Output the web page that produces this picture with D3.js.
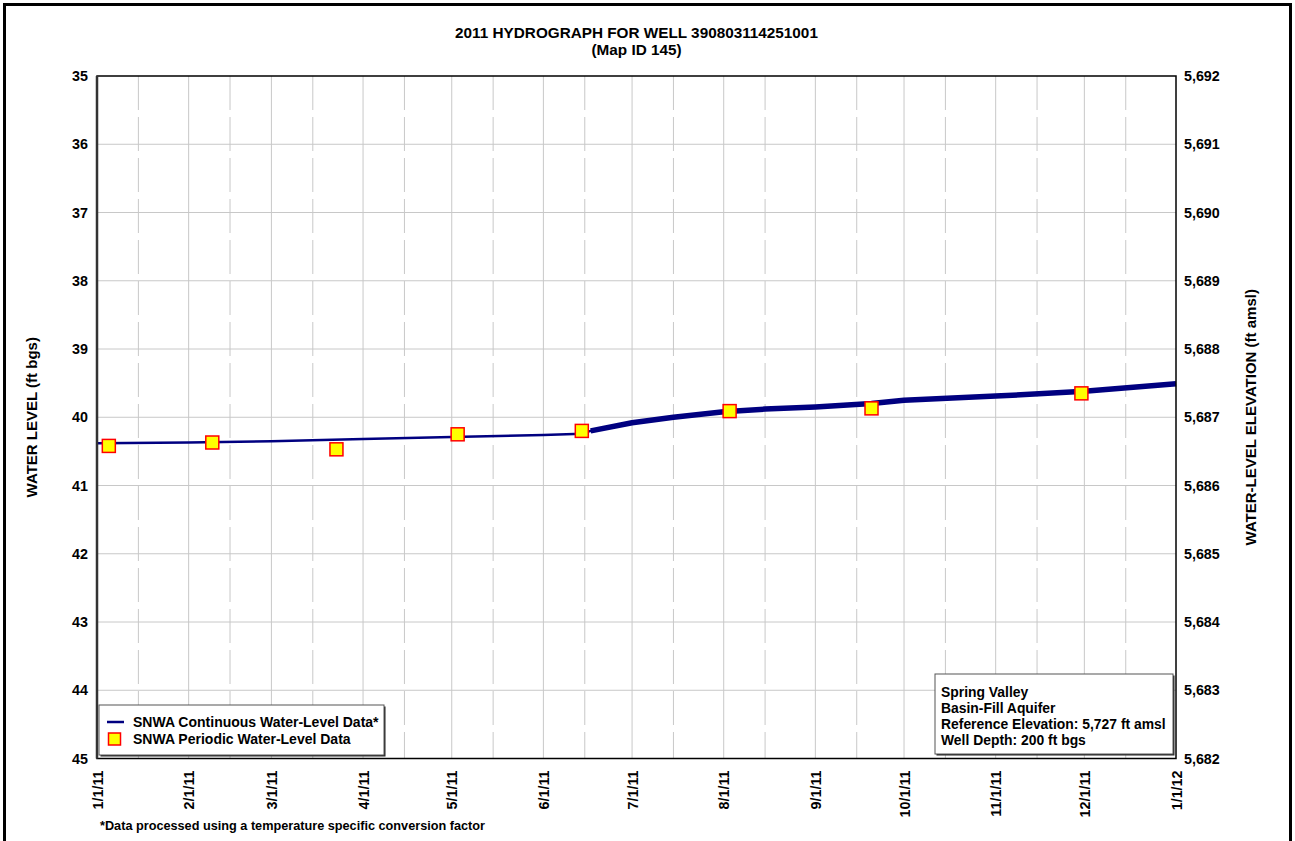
<!DOCTYPE html>
<html>
<head>
<meta charset="utf-8">
<script src="https://cdn.jsdelivr.net/npm/d3@7/dist/d3.min.js"></script>
<style>
  html, body { margin: 0; padding: 0; background: #fff; }
  svg { display: block; font-family: "Liberation Sans", Arial, sans-serif; font-weight: bold; }
</style>
</head>
<body>
<svg id="chart" width="1295" height="841"></svg>
<script>
// ---- data -------------------------------------------------------------
const titleLines = ["2011 HYDROGRAPH FOR WELL 390803114251001", "(Map ID 145)"];
const referenceElevation = 5727; // ft amsl
const depthDomain = [35, 45];     // ft bgs
const depthTicks = [35, 36, 37, 38, 39, 40, 41, 42, 43, 44, 45];

// continuous transducer record (ft bgs)
const contDates = ["2011-01-01", "2011-02-01", "2011-03-01", "2011-04-01", "2011-05-01",
  "2011-06-01", "2011-06-14", "2011-06-17", "2011-07-01", "2011-07-15", "2011-08-01",
  "2011-08-15", "2011-09-01", "2011-09-20", "2011-10-01", "2011-11-01", "2011-12-01", "2012-01-01"];
const contDepths = [40.38, 40.37, 40.35, 40.32, 40.29,
  40.26, 40.24, 40.20, 40.08, 40.00, 39.92,
  39.88, 39.85, 39.80, 39.75, 39.69, 39.62, 39.51];
// after this date the record is logged at high frequency and plots as a wide band
const bandStart = "2011-06-17";

// periodic manual measurements (ft bgs)
const periodicDates = ["2011-01-05", "2011-02-09", "2011-03-23", "2011-05-03",
  "2011-06-14", "2011-08-03", "2011-09-20", "2011-11-30"];
const periodicDepths = [40.42, 40.37, 40.47, 40.25, 40.20, 39.91, 39.87, 39.65];

const legendLabels = ["SNWA Continuous Water-Level Data*", "SNWA Periodic Water-Level Data"];
const infoLines = ["Spring Valley", "Basin-Fill Aquifer",
  "Reference Elevation: 5,727 ft amsl", "Well Depth: 200 ft bgs"];
const footnote = "*Data processed using a temperature specific conversion factor";
const leftTitle = "WATER LEVEL (ft bgs)";
const rightTitle = "WATER-LEVEL ELEVATION (ft amsl)";

// ---- layout -----------------------------------------------------------
const parse = d3.timeParse("%Y-%m-%d");
const plot = { left: 97, right: 1176, top: 76, bottom: 758.5 };
const svg = d3.select("#chart");

const x = d3.scaleTime()
  .domain([parse("2011-01-01"), parse("2012-01-01")])
  .range([plot.left, plot.right]);
const y = d3.scaleLinear().domain(depthDomain).range([plot.top, plot.bottom]);
const yElev = d3.scaleLinear()
  .domain(depthDomain.map(d => referenceElevation - d))
  .range([plot.top, plot.bottom]);

// outer frame
svg.append("rect")
  .attr("x", 4.5).attr("y", 4.5).attr("width", 1286).attr("height", 900)
  .attr("fill", "none").attr("stroke", "#000").attr("stroke-width", 3);

// title
svg.append("g").selectAll("text").data(titleLines).join("text")
  .attr("x", (plot.left + plot.right) / 2)
  .attr("y", (d, i) => 38 + i * 17)
  .attr("text-anchor", "middle")
  .attr("font-size", 15.3)
  .text(d => d);

// ---- grid -------------------------------------------------------------
const grid = svg.append("g");
const monthStarts = d3.timeMonth.range(parse("2011-02-01"), parse("2012-01-01"));
const midMonths = d3.timeMonth.range(parse("2011-01-01"), parse("2012-01-01"))
  .map(d => new Date(d.getFullYear(), d.getMonth(), 15));

grid.selectAll(".hgrid").data(depthTicks.slice(1, -1)).join("line")
  .attr("x1", plot.left).attr("x2", plot.right)
  .attr("y1", d => y(d)).attr("y2", d => y(d))
  .attr("stroke", "#c8c8c8").attr("stroke-width", 1);

grid.selectAll(".vgrid").data(monthStarts).join("line")
  .attr("x1", d => x(d)).attr("x2", d => x(d))
  .attr("y1", plot.top).attr("y2", plot.bottom)
  .attr("stroke", "#c8c8c8").attr("stroke-width", 1);

grid.selectAll(".vmid").data(midMonths).join("line")
  .attr("x1", d => x(d)).attr("x2", d => x(d))
  .attr("y1", plot.top).attr("y2", plot.bottom)
  .attr("stroke", "#c8c8c8").attr("stroke-width", 1)
  .attr("stroke-dasharray", "34,7");

// ---- series -----------------------------------------------------------
const cont = contDates.map((d, i) => ({ date: parse(d), depth: contDepths[i] }));
const line = d3.line().x(d => x(d.date)).y(d => y(d.depth));

svg.append("path").datum(cont)
  .attr("d", line)
  .attr("fill", "none").attr("stroke", "#000080").attr("stroke-width", 2.5)
  .attr("stroke-linejoin", "round");

svg.append("path").datum(cont.filter(d => d.date >= parse(bandStart)))
  .attr("d", line)
  .attr("fill", "none").attr("stroke", "#000080").attr("stroke-width", 5.5)
  .attr("stroke-linejoin", "round");

const periodic = periodicDates.map((d, i) => ({ date: parse(d), depth: periodicDepths[i] }));
const mk = 13;
svg.append("g").selectAll("rect").data(periodic).join("rect")
  .attr("x", d => x(d.date) - mk / 2).attr("y", d => y(d.depth) - mk / 2)
  .attr("width", mk).attr("height", mk)
  .attr("fill", "#ffff00").attr("stroke", "#ff0000").attr("stroke-width", 1.5);

// ---- plot frame and axes ---------------------------------------------
svg.append("rect")
  .attr("x", plot.left).attr("y", plot.top)
  .attr("width", plot.right - plot.left).attr("height", plot.bottom - plot.top)
  .attr("fill", "none").attr("stroke", "#000").attr("stroke-width", 1.5);
svg.append("line")
  .attr("x1", plot.left).attr("x2", plot.left).attr("y1", plot.top).attr("y2", plot.bottom)
  .attr("stroke", "#333").attr("stroke-width", 2.5);

const leftAxis = svg.append("g")
  .attr("transform", `translate(${plot.left},0)`)
  .call(d3.axisLeft(y).tickValues(depthTicks).tickSize(0).tickPadding(9).tickFormat(d3.format("d")));
const rightAxis = svg.append("g")
  .attr("transform", `translate(${plot.right},0)`)
  .call(d3.axisRight(yElev).tickValues(depthTicks.map(d => referenceElevation - d))
    .tickSize(0).tickPadding(8).tickFormat(d3.format(",")));
const bottomAxis = svg.append("g")
  .attr("transform", `translate(0,${plot.bottom})`)
  .call(d3.axisBottom(x)
    .tickValues(d3.timeMonth.range(parse("2011-01-01"), parse("2012-01-02")))
    .tickSize(0).tickFormat(d3.timeFormat("%-m/%-d/%y")));

[leftAxis, rightAxis, bottomAxis].forEach(g => {
  g.select(".domain").remove();
  g.selectAll("text").attr("font-family", "Liberation Sans, Arial, sans-serif")
    .attr("font-weight", "bold").attr("font-size", 14.3).attr("fill", "#000");
});

bottomAxis.selectAll("text")
  .attr("transform", "rotate(-90)")
  .attr("x", -12).attr("y", 0).attr("dy", "0.36em")
  .attr("text-anchor", "end");

// axis titles
svg.append("text")
  .attr("transform", `translate(37,${(plot.top + plot.bottom) / 2}) rotate(-90)`)
  .attr("text-anchor", "middle").attr("font-size", 15).text(leftTitle);
svg.append("text")
  .attr("transform", `translate(1256,${(plot.top + plot.bottom) / 2}) rotate(-90)`)
  .attr("text-anchor", "middle").attr("font-size", 15).text(rightTitle);

// ---- legend -----------------------------------------------------------
const lg = svg.append("g");
const lgBox = { x: 99, y: 705, w: 285, h: 50 };
lg.append("rect").attr("x", lgBox.x + 1.5).attr("y", lgBox.y + 1.5)
  .attr("width", lgBox.w).attr("height", lgBox.h).attr("fill", "#222");
lg.append("rect").attr("x", lgBox.x).attr("y", lgBox.y)
  .attr("width", lgBox.w).attr("height", lgBox.h)
  .attr("fill", "#fff").attr("stroke", "#555").attr("stroke-width", 1);
lg.append("line").attr("x1", 107).attr("x2", 124).attr("y1", 722).attr("y2", 722)
  .attr("stroke", "#000080").attr("stroke-width", 2.5);
lg.append("rect").attr("x", 108.5).attr("y", 733).attr("width", 12).attr("height", 12)
  .attr("fill", "#ffff00").attr("stroke", "#ff0000").attr("stroke-width", 1.5);
lg.selectAll("text").data(legendLabels).join("text")
  .attr("x", 133).attr("y", (d, i) => 727 + i * 17)
  .attr("font-size", 14).text(d => d);

// ---- site info box ---------------------------------------------------
const ib = svg.append("g");
const ibBox = { x: 935, y: 674, w: 238, h: 80 };
ib.append("rect").attr("x", ibBox.x + 1.5).attr("y", ibBox.y + 1.5)
  .attr("width", ibBox.w).attr("height", ibBox.h).attr("fill", "#222");
ib.append("rect").attr("x", ibBox.x).attr("y", ibBox.y)
  .attr("width", ibBox.w).attr("height", ibBox.h)
  .attr("fill", "#fff").attr("stroke", "#555").attr("stroke-width", 1);
ib.selectAll("text").data(infoLines).join("text")
  .attr("x", 941).attr("y", (d, i) => 697 + i * 16)
  .attr("font-size", 13.9).text(d => d);

// footnote
svg.append("text").attr("x", 100).attr("y", 830).attr("font-size", 12.7).text(footnote);
</script>
</body>
</html>
